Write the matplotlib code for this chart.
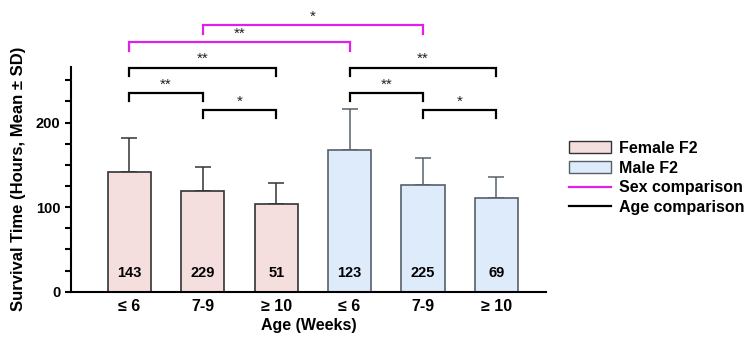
import matplotlib
matplotlib.use("Agg")
import matplotlib.pyplot as plt
from matplotlib.patches import Patch
from matplotlib.lines import Line2D

categories = ["≤ 6", "7-9", "≥ 10", "≤ 6", "7-9", "≥ 10"]
groups = ["Female F2", "Female F2", "Female F2", "Male F2", "Male F2", "Male F2"]
means = [141, 119, 104, 168, 126, 110.5]
sds = [40.5, 28.5, 24, 48.5, 32, 25.5]
counts = [143, 229, 51, 123, 225, 69]

# comparisons: (i, j, bracket height, label)
age_comparisons = [(0, 1, 235, "**"), (1, 2, 215, "*"), (0, 2, 265, "**"),
                   (3, 4, 235, "**"), (4, 5, 215, "*"), (3, 5, 265, "**")]
sex_comparisons = [(0, 3, 295, "**"), (1, 4, 315, "*")]

plt.rcParams['font.family'] = ['Liberation Sans', 'DejaVu Sans']

fig = plt.figure(figsize=(7.5, 3.42), dpi=100)
ax = fig.add_axes([0.0943, 0.147, 0.634, 0.658])

face = {"Female F2": "#f5dede", "Male F2": "#deebfa"}
edge = {"Female F2": "#333333", "Male F2": "#56606b"}
x = list(range(len(means)))
for xi, m, s, g in zip(x, means, sds, groups):
    ax.bar(xi, m, width=0.59, color=face[g], edgecolor=edge[g], linewidth=1.2, zorder=2)
    ax.errorbar(xi, m, yerr=[[0], [s]], fmt='none', ecolor=edge[g], elinewidth=1.1,
                capsize=6, capthick=1.1, zorder=1)
for xi, c in zip(x, counts):
    ax.text(xi, 22, str(c), ha='center', va='center', fontsize=10.5, fontweight='bold', zorder=3)

def bracket(i, j, h, label, color):
    leg = 10
    ax.plot([i, i, j, j], [h - leg, h, h, h - leg], color=color, lw=1.6, clip_on=False,
            solid_joinstyle='miter', zorder=4)
    ax.text((i + j) / 2, h + 1.5, label, ha='center', va='bottom', fontsize=11, color='#222222',
            clip_on=False)

for i, j, h, lab in age_comparisons:
    bracket(i, j, h, lab, 'black')
for i, j, h, lab in sex_comparisons:
    bracket(i, j, h, lab, '#e020e8')

ax.set_xlim(-0.8, 5.68)
ax.set_ylim(0, 266)
ax.set_yticks([0, 100, 200])
ax.set_yticks(list(range(0, 251, 25)), minor=True)
ax.set_xticks(x)
ax.set_xticklabels(categories, fontsize=11.5, fontweight='bold')
ax.tick_params(axis='x', length=0, pad=5)
ax.tick_params(axis='y', which='both', length=4, width=1.5, labelsize=10.5)
for lab in ax.get_yticklabels():
    lab.set_fontweight('bold')
ax.spines['top'].set_visible(False)
ax.spines['right'].set_visible(False)
ax.spines['left'].set_linewidth(1.5)
ax.spines['bottom'].set_linewidth(1.5)
ax.set_xlabel("Age (Weeks)", fontsize=11.5, fontweight='bold', labelpad=3)
ax.set_ylabel("Survival Time (Hours, Mean ± SD)", fontsize=12, fontweight='bold', labelpad=7)

handles = [Patch(facecolor=face["Female F2"], edgecolor=edge["Female F2"], label="Female F2"),
           Patch(facecolor=face["Male F2"], edgecolor=edge["Male F2"], label="Male F2"),
           Line2D([0], [0], color='#e020e8', lw=1.6, label="Sex comparison"),
           Line2D([0], [0], color='black', lw=1.6, label="Age comparison")]
leg = fig.legend(handles=handles, loc='upper left', bbox_to_anchor=(0.74, 0.63), frameon=False,
                 prop={'size': 11.5, 'weight': 'bold'}, handlelength=2.6, handleheight=0.8,
                 labelspacing=0.3, handletextpad=0.5)

fig.savefig("out.png", dpi=100)
